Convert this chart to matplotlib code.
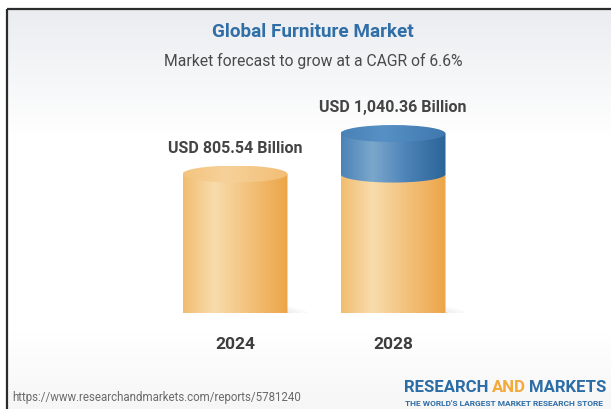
import matplotlib
matplotlib.use("Agg")
import matplotlib.pyplot as plt
import numpy as np
from matplotlib.path import Path
from matplotlib.patches import PathPatch, Ellipse
from matplotlib.colors import LinearSegmentedColormap

# ---------------- data ----------------
years = ["2024", "2028"]
values = [805.54, 1040.36]
value_labels = ["USD 805.54 Billion", "USD 1,040.36 Billion"]
title = "Global Furniture Market"
subtitle = "Market forecast to grow at a CAGR of 6.6%"
source = "https://www.researchandmarkets.com/reports/5781240"
brand_words = ["RESEARCH", "AND", "MARKETS"]
tagline = "THE WORLD'S LARGEST MARKET RESEARCH STORE"

plt.rcParams['font.family'] = ['Roboto', 'DejaVu Sans']

W, H = 611, 409
fig = plt.figure(figsize=(W / 100, H / 100), dpi=100)
fig.patch.set_facecolor('white')

# ---------------- background ----------------
bg = fig.add_axes([0, 0, 1, 1])
bg.set_xlim(0, W)
bg.set_ylim(H, 0)
bg.axis('off')
ys = np.arange(H, dtype=float)
top_c = np.array([0.925, 0.933, 0.945])
bot_c = np.array([0.965, 0.965, 0.965])
col = np.ones((H, 3))
for k, y in enumerate(ys):
    if y < 130:
        f = max(0.0, (130 - y) / 120)
        col[k] = 1 - (1 - top_c) * f
    elif y > 330:
        f = min(1.0, (y - 330) / 79)
        col[k] = 1 - (1 - bot_c) * f
img = col.reshape(H, 1, 3)
bg.imshow(img, extent=[7, W, H, 9], aspect='auto', zorder=0)
bg.set_xlim(0, W)
bg.set_ylim(H, 0)
bg.plot([7, 7], [H, 9], color='#2b2b2b', lw=1.6, zorder=5, solid_capstyle='butt')
bg.plot([7, W], [9, 9], color='#2b2b2b', lw=1.6, zorder=5, solid_capstyle='butt')

bg.text(313, 32, title, ha='center', va='center', fontsize=13.6,
        fontweight='bold', color='#2f6ea6', zorder=6)
bg.text(313, 61, subtitle, ha='center', va='center', fontsize=11.3,
        color='#4a4a4a', zorder=6)
bg.text(12, 398, source, ha='left', va='center', fontsize=8.3,
        color='#6a6a6a', zorder=6)

# brand logo
renderer = fig.canvas.get_renderer()
x = 404
brand_colors = ['#2d6da6', '#f4a93b', '#2d6da6']
for word, c in zip(brand_words, brand_colors):
    t = bg.text(x, 387, word, ha='left', va='center', fontsize=12.1,
                fontweight='bold', color=c, zorder=6)
    ext = t.get_window_extent(renderer)
    x = ext.x1 + 3.5
bg.text(405, 404, tagline, ha='left', va='center', fontsize=6.0,
        fontweight='bold', color='#2d6da6', zorder=6)

# ---------------- chart axes ----------------
px_per_unit = 0.1725
ymax = 1200
ax_left, ax_right, ax_base = 156, 472, 313
ax = fig.add_axes([ax_left / W, (H - ax_base) / H, (ax_right - ax_left) / W,
                   ymax * px_per_unit / H])
ax.set_xlim(-0.5, 1.5)
ax.set_ylim(0, ymax)
ax.axis('off')
ax.patch.set_alpha(0)

unit_px_x = (ax_right - ax_left) / 2.0
a = 52.5 / unit_px_x          # half width in data units
b = 8.5 / px_per_unit         # ellipse half height in data units

orange_side = LinearSegmentedColormap.from_list(
    'os', [(0, '#f1bd6f'), (0.3, '#f8dcad'), (0.62, '#f3c27c'), (1, '#eca548')])
orange_top = LinearSegmentedColormap.from_list(
    'ot', [(0, '#f3c47f'), (0.4, '#f7d19a'), (1, '#f2be74')])
blue_side = LinearSegmentedColormap.from_list(
    'bs', [(0, '#4c83b7'), (0.3, '#7ba7cc'), (0.62, '#4d84b8'), (1, '#2b6498')])
blue_top = LinearSegmentedColormap.from_list(
    'bt', [(0, '#4a82b8'), (0.4, '#5690c4'), (1, '#3e78ae')])

grad = np.linspace(0, 1, 256).reshape(1, -1)


def side(cx, y0, y1, cmap, z):
    t = np.linspace(np.pi, 2 * np.pi, 80)
    xs = cx + a * np.cos(t)
    yy = y0 + b * np.sin(t)
    verts = [(cx - a, y1)] + list(zip(xs, yy)) + [(cx + a, y1), (cx - a, y1)]
    patch = PathPatch(Path(verts), facecolor='none', edgecolor='none')
    ax.add_patch(patch)
    im = ax.imshow(grad, cmap=cmap, extent=[cx - a, cx + a, y0 - b, y1],
                   aspect='auto', zorder=z, interpolation='bilinear')
    im.set_clip_path(patch)


def top(cx, y1, cmap, z):
    e = Ellipse((cx, y1), 2 * a, 2 * b, facecolor='none', edgecolor='none')
    ax.add_patch(e)
    im = ax.imshow(grad, cmap=cmap, extent=[cx - a, cx + a, y1 - b, y1 + b],
                   aspect='auto', zorder=z, interpolation='bilinear')
    im.set_clip_path(e)


base = values[0]
for i, v in enumerate(values):
    # soft shadow
    for k, (dx, s, al) in enumerate([(0.10, 1.10, 0.05), (0.08, 1.0, 0.06), (0.06, 0.9, 0.07)]):
        ax.add_patch(Ellipse((i + dx, -b * 0.2), 2 * a * s, 2 * b * 1.1 * s,
                             facecolor='#8a8a8a', alpha=al, edgecolor='none', zorder=1))
    low = min(v, base)
    side(i, 0, low, orange_side, 2)
    if v > base:
        side(i, base, v, blue_side, 3)
        top(i, v, blue_top, 4)
    else:
        top(i, v, orange_top, 4)
    ax.annotate(value_labels[i], (i, v), xytext=(0, 18.5), textcoords='offset points',
                ha='center', va='center', fontsize=11.5, fontweight='bold',
                color='#444444', zorder=6)
    ax.annotate(years[i], (i, 0), xytext=(0, -22.5), textcoords='offset points',
                ha='center', va='center', fontsize=12.5, fontweight='bold',
                color='#3d3d3d', zorder=6)

ax.set_xlim(-0.5, 1.5)
ax.set_ylim(0, ymax)

fig.savefig('out.png', dpi=100)
